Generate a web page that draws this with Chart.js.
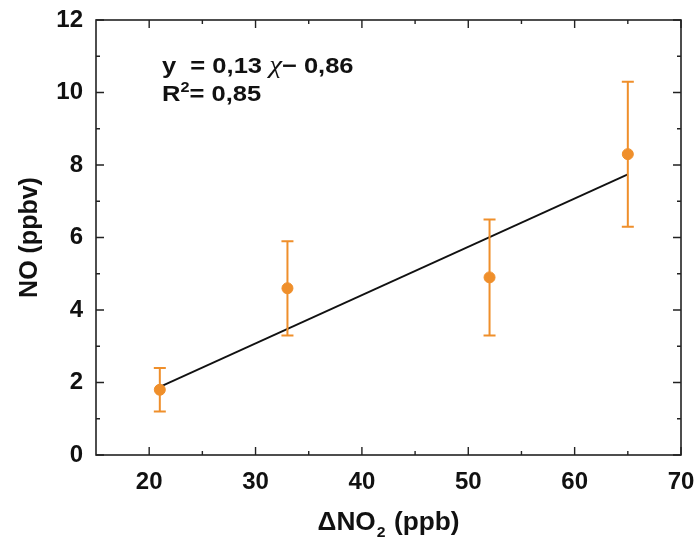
<!DOCTYPE html>
<html><head><meta charset="utf-8">
<script src="https://cdn.jsdelivr.net/npm/chart.js@4/dist/chart.umd.min.js"></script>
<style>html,body{margin:0;padding:0;background:#fff}#c{display:block}</style>
</head>
<body><canvas id="c" width="697" height="544"></canvas>
<script>
const xValues = [21, 33, 52, 65];
const yValues = [1.8, 4.6, 4.9, 8.3];
const yErrLow = [1.2, 3.3, 3.3, 6.3];
const yErrHigh = [2.4, 5.9, 6.5, 10.3];
const fitX = [21, 65];
const fitY = [1.88, 7.74];
const xTicks = [20, 30, 40, 50, 60, 70];
const yTicks = [0, 2, 4, 6, 8, 10, 12];
const xMinor = [25, 35, 45, 55, 65];
const yMinor = [1, 3, 5, 7, 9, 11];
const xTitle = ['ΔNO', '2', ' (ppb)'];
const yTitle = 'NO (ppbv)';
const eqLine1 = ['y  = 0,13 ', 'χ', '− 0,86'];
const eqLine2 = ['R', '2', '= 0,85'];

const ORANGE = '#EF8F2B';
const FONT = '"Liberation Sans", Arial, sans-serif';

const decor = {
  id: 'decor',
  afterDatasetsDraw(chart) {
    const ctx = chart.ctx, xs = chart.scales.x, ys = chart.scales.y;
    ctx.save();
    ctx.strokeStyle = ORANGE; ctx.lineWidth = 2;
    for (let i = 0; i < xValues.length; i++) {
      const px = xs.getPixelForValue(xValues[i]);
      const p1 = ys.getPixelForValue(yErrLow[i]);
      const p2 = ys.getPixelForValue(yErrHigh[i]);
      ctx.beginPath();
      ctx.moveTo(px, p1); ctx.lineTo(px, p2);
      ctx.moveTo(px - 6, p1); ctx.lineTo(px + 6, p1);
      ctx.moveTo(px - 6, p2); ctx.lineTo(px + 6, p2);
      ctx.stroke();
    }
    ctx.restore();
  },
  afterDraw(chart) {
    const ctx = chart.ctx, xs = chart.scales.x, ys = chart.scales.y, a = chart.chartArea;
    ctx.save();
    ctx.strokeStyle = '#222'; ctx.lineWidth = 1.6;
    ctx.strokeRect(a.left, a.top, a.right - a.left, a.bottom - a.top);
    ctx.lineWidth = 1.4;
    ctx.beginPath();
    const drawX = (vals, len) => vals.forEach(v => {
      const p = xs.getPixelForValue(v);
      ctx.moveTo(p, a.bottom); ctx.lineTo(p, a.bottom - len);
      ctx.moveTo(p, a.top); ctx.lineTo(p, a.top + len);
    });
    const drawY = (vals, len) => vals.forEach(v => {
      const p = ys.getPixelForValue(v);
      ctx.moveTo(a.left, p); ctx.lineTo(a.left + len, p);
      ctx.moveTo(a.right, p); ctx.lineTo(a.right - len, p);
    });
    drawX(xTicks, 8); drawX(xMinor, 4);
    drawY(yTicks, 8); drawY(yMinor, 4);
    ctx.stroke();

    // equation
    ctx.fillStyle = '#111';
    ctx.textBaseline = 'alphabetic';
    ctx.textAlign = 'left';
    ctx.save();
    ctx.translate(162, 0);
    ctx.scale(1.16, 1);
    let x = 0, y = 73;
    ctx.font = 'bold 22px ' + FONT;
    ctx.fillText(eqLine1[0], x, y); x += ctx.measureText(eqLine1[0]).width;
    ctx.font = 'italic 25px "Liberation Serif", serif';
    ctx.fillText(eqLine1[1], x, y); x += ctx.measureText(eqLine1[1]).width;
    ctx.font = 'bold 22px ' + FONT;
    ctx.fillText(eqLine1[2], x, y);
    x = 0; y = 101;
    ctx.fillText(eqLine2[0], x, y); x += ctx.measureText(eqLine2[0]).width;
    ctx.font = 'bold 14px ' + FONT;
    ctx.fillText(eqLine2[1], x, y - 9); x += ctx.measureText(eqLine2[1]).width;
    ctx.font = 'bold 22px ' + FONT;
    ctx.fillText(eqLine2[2], x, y);
    ctx.restore();

    // x title
    ctx.font = 'bold 25px ' + FONT;
    const w0 = ctx.measureText(xTitle[0]).width;
    const w2 = ctx.measureText(xTitle[2]).width;
    ctx.font = 'bold 15px ' + FONT;
    const w1 = ctx.measureText(xTitle[1]).width + 2;
    const sx = 1.05;
    let tx = (a.left + a.right) / 2 - sx * (w0 + w1 + w2) / 2;
    ctx.save();
    ctx.translate(tx, 0);
    ctx.scale(sx, 1);
    tx = 0;
    const ty = 530;
    ctx.font = 'bold 25px ' + FONT;
    ctx.fillText(xTitle[0], tx, ty); tx += w0;
    ctx.font = 'bold 15px ' + FONT;
    ctx.fillText(xTitle[1], tx + 1, ty + 7); tx += w1;
    ctx.font = 'bold 25px ' + FONT;
    ctx.fillText(xTitle[2], tx, ty);
    ctx.restore();

    // y title
    ctx.translate(30, (a.top + a.bottom) / 2);
    ctx.rotate(-Math.PI / 2);
    ctx.textAlign = 'center'; ctx.textBaseline = 'middle';
    ctx.font = 'bold 25px ' + FONT;
    ctx.fillText(yTitle, 0, 0);
    ctx.restore();
  }
};

new Chart(document.getElementById('c'), {
  type: 'scatter',
  data: {
    datasets: [
      {
        type: 'line',
        data: fitX.map((v, i) => ({x: v, y: fitY[i]})),
        borderColor: '#111', borderWidth: 1.8, pointRadius: 0, fill: false, order: 2
      },
      {
        data: xValues.map((v, i) => ({x: v, y: yValues[i]})),
        backgroundColor: ORANGE, borderColor: ORANGE, pointRadius: 5.5, pointHoverRadius: 5.5, order: 1
      }
    ]
  },
  options: {
    responsive: false, animation: false, devicePixelRatio: 1,
    layout: {padding: {top: 20, right: 16, left: 0, bottom: 0}},
    plugins: {legend: {display: false}, tooltip: {enabled: false}},
    scales: {
      x: {
        type: 'linear', min: 15, max: 70,
        afterBuildTicks: s => { s.ticks = xTicks.map(v => ({value: v})); },
        afterFit: s => { s.height = 89; s.paddingLeft = 0; s.paddingRight = 0; },
        grid: {display: false, drawTicks: false},
        border: {display: false},
        ticks: {color: '#111', font: {family: FONT, size: 24, weight: 'bold'}, padding: 13, maxRotation: 0}
      },
      y: {
        type: 'linear', min: 0, max: 12,
        afterBuildTicks: s => { s.ticks = yTicks.map(v => ({value: v})); },
        afterFit: s => { s.width = 96; s.paddingTop = 0; s.paddingBottom = 0; },
        grid: {display: false, drawTicks: false},
        border: {display: false},
        ticks: {color: '#111', font: {family: FONT, size: 24, weight: 'bold'}, padding: 13}
      }
    }
  },
  plugins: [decor]
});
</script>
</body></html>
